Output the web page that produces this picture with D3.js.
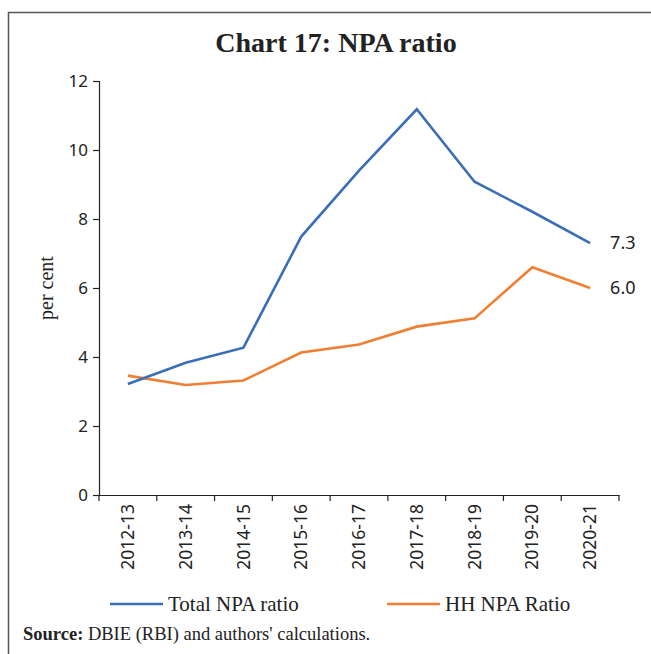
<!DOCTYPE html>
<html>
<head>
<meta charset="utf-8">
<script src="https://cdn.jsdelivr.net/npm/d3@7"></script>
<style>
  html, body { margin: 0; padding: 0; background: #fff; }
  svg { display: block; }
</style>
</head>
<body>
<script>
// Financial years on the x axis
const years = ["2012-13", "2013-14", "2014-15", "2015-16", "2016-17", "2017-18", "2018-19", "2019-20", "2020-21"];
// Gross NPA ratios, per cent
const totalNPA = [3.22, 3.83, 4.27, 7.49, 9.4, 11.18, 9.08, 8.21, 7.3];
const hhNPA = [3.46, 3.19, 3.32, 4.13, 4.36, 4.88, 5.12, 6.6, 6.0];
const yTicks = [0, 2, 4, 6, 8, 10, 12];
const seriesNames = ["Total NPA ratio", "HH NPA Ratio"];
const seriesColors = ["#3a6fb8", "#f07f33"];

const W = 651, H = 654;
const svg = d3.select("body").append("svg").attr("width", W).attr("height", H);

// outer frame
svg.append("rect")
  .attr("x", 8.5).attr("y", 12.5)
  .attr("width", W + 20).attr("height", H + 20)
  .attr("fill", "none").attr("stroke", "#555").attr("stroke-width", 1.5);

// title
svg.append("text")
  .attr("x", 336).attr("y", 52)
  .attr("text-anchor", "middle")
  .attr("font-family", "Liberation Serif, serif")
  .attr("font-weight", "bold")
  .attr("font-size", 28)
  .attr("fill", "#222")
  .text("Chart 17: NPA ratio");

const plot = { left: 99, right: 619, top: 81, bottom: 495 };

const x = d3.scaleBand().domain(years).range([plot.left, plot.right]);
const y = d3.scaleLinear().domain([0, 12]).range([plot.bottom, plot.top]);

// y axis
const yAxis = svg.append("g")
  .attr("transform", `translate(${plot.left},0)`)
  .call(d3.axisLeft(y).tickValues(yTicks).tickSize(6).tickPadding(5).tickFormat(d3.format("d")));
yAxis.select(".domain").attr("stroke", "#222").attr("stroke-width", 1.2);
yAxis.selectAll(".tick line").attr("stroke", "#222").attr("stroke-width", 1.2);
yAxis.selectAll(".tick text")
  .attr("font-family", "Noto Sans, sans-serif")
  .attr("font-size", 17)
  .attr("fill", "#222");

// x axis with ticks between categories
const xAxis = svg.append("g")
  .attr("transform", `translate(0,${plot.bottom})`)
  .call(d3.axisBottom(x).tickSize(0).tickSizeOuter(0));
xAxis.select(".domain").attr("stroke", "#222").attr("stroke-width", 1.2);
xAxis.selectAll(".tick line").remove();
xAxis.selectAll(".tick text")
  .attr("font-family", "Noto Sans, sans-serif")
  .attr("font-size", 17.5)
  .attr("fill", "#222")
  .attr("transform", "rotate(-90)")
  .attr("text-anchor", "end")
  .attr("dx", "-9")
  .attr("dy", "0.35em")
  .attr("y", 0)
  .attr("x", 0);
const boundaries = years.map(d => x(d)).concat([x(years[years.length - 1]) + x.bandwidth()]);
svg.append("g").selectAll("line")
  .data(boundaries)
  .join("line")
  .attr("x1", d => d).attr("x2", d => d)
  .attr("y1", plot.bottom).attr("y2", plot.bottom + 6)
  .attr("stroke", "#222").attr("stroke-width", 1.2);

// y axis title
svg.append("text")
  .attr("transform", `translate(53,${(plot.top + plot.bottom) / 2}) rotate(-90)`)
  .attr("text-anchor", "middle")
  .attr("font-family", "Liberation Serif, serif")
  .attr("font-size", 20)
  .attr("fill", "#222")
  .text("per cent");

// lines
const line = d3.line()
  .x((d, i) => x(years[i]) + x.bandwidth() / 2)
  .y(d => y(d));

[hhNPA, totalNPA].forEach((vals, k) => {
  const idx = k === 0 ? 1 : 0;
  svg.append("path")
    .datum(vals)
    .attr("d", line)
    .attr("fill", "none")
    .attr("stroke", seriesColors[idx])
    .attr("stroke-width", 2.6)
    .attr("stroke-linejoin", "miter");
});

// end-point value labels
[totalNPA, hhNPA].forEach(vals => {
  const last = vals[vals.length - 1];
  svg.append("text")
    .attr("x", x(years[years.length - 1]) + x.bandwidth() / 2 + 20)
    .attr("y", y(last))
    .attr("dy", "0.35em")
    .attr("font-family", "Noto Sans, sans-serif")
    .attr("font-size", 18)
    .attr("fill", "#222")
    .text(d3.format(".1f")(last));
});

// legend
const legendX = [110, 387];
seriesNames.forEach((name, i) => {
  const g = svg.append("g").attr("transform", `translate(${legendX[i]},604)`);
  g.append("line")
    .attr("x1", 0).attr("x2", 53)
    .attr("y1", 0).attr("y2", 0)
    .attr("stroke", seriesColors[i]).attr("stroke-width", 2.6);
  g.append("text")
    .attr("x", 58).attr("y", 0).attr("dy", "0.35em")
    .attr("font-family", "Liberation Serif, serif")
    .attr("font-size", 21)
    .attr("fill", "#222")
    .text(name);
});

// source note
const src = svg.append("text")
  .attr("x", 23).attr("y", 640)
  .attr("font-family", "Liberation Serif, serif")
  .attr("font-size", 18.5)
  .attr("fill", "#222");
src.append("tspan").attr("font-weight", "bold").text("Source:");
src.append("tspan").text(" DBIE (RBI) and authors' calculations.");
</script>
</body>
</html>
